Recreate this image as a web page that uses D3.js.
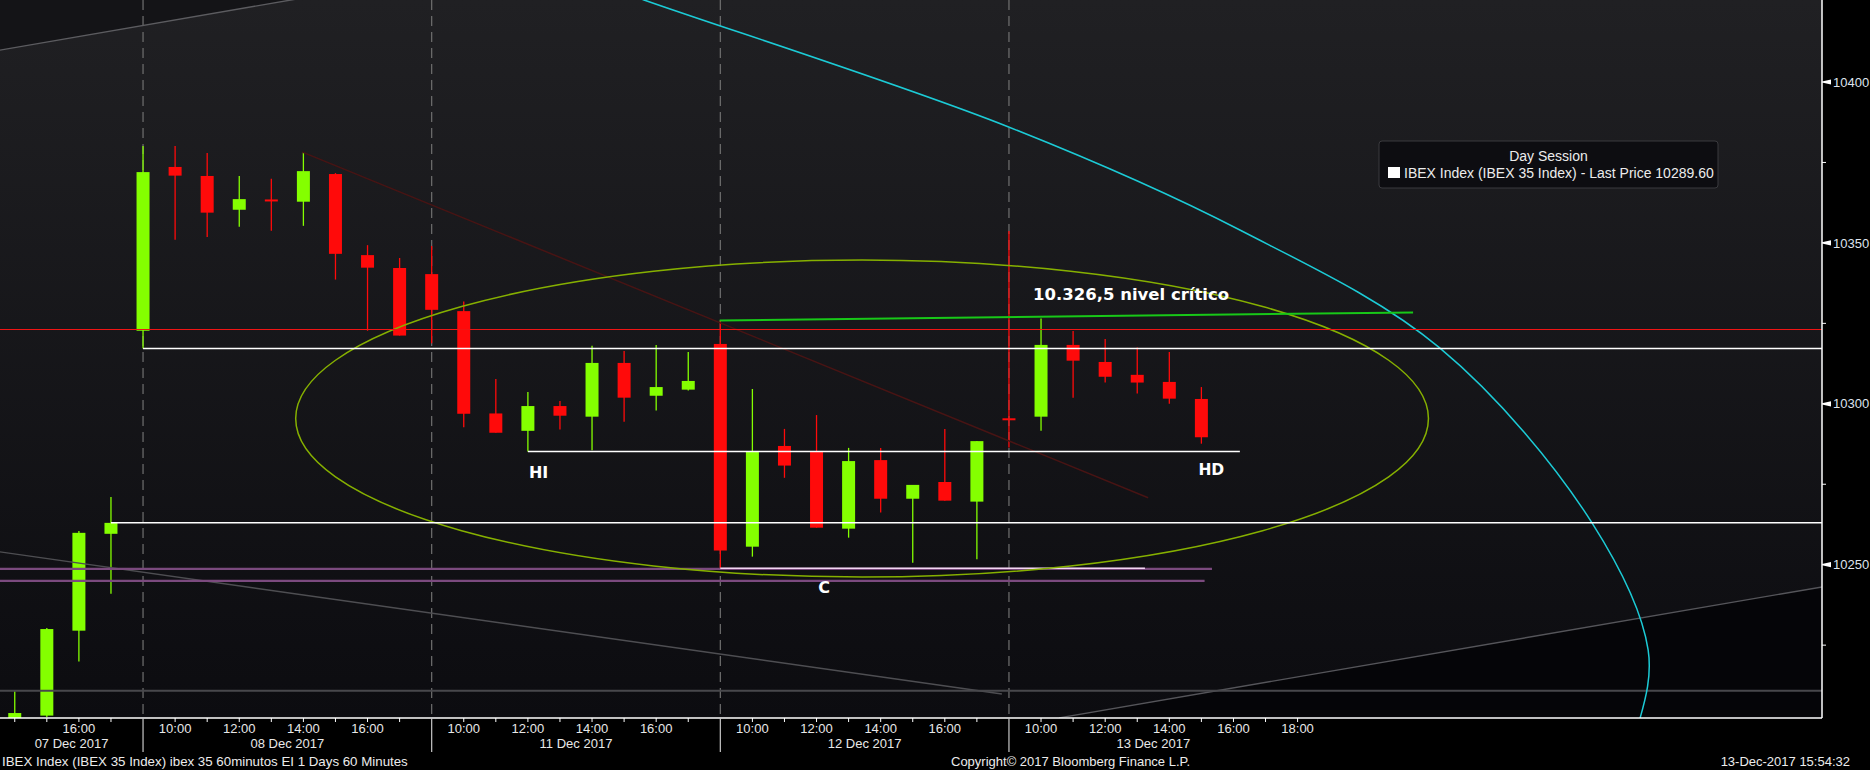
<!DOCTYPE html>
<html>
<head>
<meta charset="utf-8">
<script src="https://cdn.jsdelivr.net/npm/d3@7/dist/d3.min.js"></script>
<style>
  html, body { margin: 0; padding: 0; background: #000; }
  svg { display: block; }
  text { font-family: "Liberation Sans", Arial, sans-serif; }
  text.note { font-family: "DejaVu Sans", sans-serif; font-weight: bold; }
</style>
</head>
<body>
<svg id="chart" width="1870" height="770"></svg>
<script>
// bar index: 0 = 07 Dec 09:00, one slot per hour, 9 slots per session
const barIdx = [5, 6, 7, 8,
  9, 10, 11, 12, 13, 14, 15, 16, 17,
  18, 19, 20, 21, 22, 23, 24, 25, 26,
  27, 28, 29, 30, 31, 32, 33, 34, 35,
  36, 37, 38, 39, 40, 41, 42];
const opens = [10202.0, 10203.1, 10229.5, 10259.6,
  10322.7, 10373.6, 10370.8, 10360.3, 10363.5, 10362.8, 10371.4, 10346.2, 10342.2,
  10340.3, 10328.8, 10297.0, 10291.6, 10299.3, 10296.0, 10312.7, 10302.5, 10304.4,
  10318.6, 10255.6, 10286.9, 10285.1, 10261.2, 10282.5, 10270.5, 10275.7, 10269.6,
  10295.5, 10296.0, 10318.3, 10313.0, 10309.0, 10306.8, 10301.5];
const highs = [10210.7, 10230.3, 10260.5, 10271.0,
  10380.1, 10380.1, 10377.9, 10370.8, 10369.9, 10378.2, 10371.7, 10349.3, 10345.3,
  10349.0, 10331.8, 10307.7, 10303.7, 10300.9, 10318.0, 10316.4, 10318.3, 10316.1,
  10325.7, 10304.6, 10292.2, 10296.5, 10286.3, 10286.3, 10274.8, 10292.2, 10288.4,
  10353.7, 10326.5, 10322.6, 10320.1, 10317.5, 10316.1, 10305.2];
const lows = [10200.0, 10202.6, 10219.9, 10241.0,
  10317.2, 10351.0, 10351.8, 10355.0, 10353.8, 10355.3, 10338.6, 10322.7, 10321.2,
  10318.8, 10292.7, 10291.0, 10285.2, 10292.0, 10285.6, 10294.4, 10297.9, 10304.1,
  10248.9, 10252.5, 10277.0, 10261.5, 10258.4, 10266.2, 10250.6, 10269.9, 10251.7,
  10286.4, 10291.6, 10301.9, 10306.6, 10303.2, 10300.0, 10287.6];
const closes = [10203.9, 10230.0, 10259.9, 10263.0,
  10372.0, 10370.9, 10359.4, 10363.6, 10363.0, 10372.3, 10346.6, 10342.3, 10321.2,
  10329.2, 10296.9, 10291.0, 10299.3, 10296.3, 10312.7, 10301.9, 10305.2, 10307.1,
  10254.4, 10285.1, 10280.8, 10261.5, 10282.2, 10270.5, 10274.8, 10269.9, 10288.4,
  10295.4, 10318.3, 10313.4, 10308.4, 10306.6, 10301.6, 10289.6];

const dayLabels = ['07 Dec 2017', '08 Dec 2017', '11 Dec 2017', '12 Dec 2017', '13 Dec 2017'];
const dayStarts = [0, 9, 18, 27, 36];
const hourLabelIdx = [7, 10, 12, 14, 16, 19, 21, 23, 25, 28, 30, 32, 34, 37, 39, 41, 43, 45];
const hourLabels = ['16:00', '10:00', '12:00', '14:00', '16:00', '10:00', '12:00', '14:00', '16:00',
  '10:00', '12:00', '14:00', '16:00', '10:00', '12:00', '14:00', '16:00', '18:00'];
const priceMajor = [10250, 10300, 10350, 10400];
const priceMinor = [10225, 10275, 10325, 10375];

// drawn studies, in [bar index, price]
const redLevel = 10323.2;
const greyLevel = 10210.8;
const whiteLevels = [[8, 10263.0], [9, 10317.2]];
const hiHdLine = [[21, 10285.2], [43.2, 10285.2]];
const cLine = [[27, 10248.9], [40.24, 10248.9]];
const purpleLines = [[[0, 10248.7], [42.33, 10248.7]], [[0, 10245.0], [42.1, 10245.0]]];
const greenTrend = [[26.98, 10325.9], [48.6, 10328.4]];
const redTrend = [[13.97, 10378.2], [40.34, 10270.8]];
const greyTopTrend = [[0, 10402.1], [14.5, 10427.0]];
const greyLowTrend = [[0, 10260.4], [35.78, 10209.8]];
const greyRiseTrend = [[37.56, 10202.4], [61.36, 10243.1]];
const ellipseCenter = [31.42, 10295.4];
const ellipseRadii = [17.66, 49.25];
const cyanArc = [[22.0, 10434.8], [24.62, 10425.5], [35.97, 10386.1], [43.2, 10354.0],
  [49.44, 10317.3], [54.18, 10263.0], [55.93, 10223.5], [55.68, 10202.4], [55.2, 10192.5]];

const W = 1870, H = 770;
const plotW = 1822, plotH = 718;

const svg = d3.select('#chart');
const x = d3.scaleLinear().domain([0, 45]).range([-145.6, 1297.6]);
const y = d3.scaleLinear().domain([10202.36, 10425.48]).range([plotH, 0]);
const pt = d => [x(d[0]), y(d[1])];

const defs = svg.append('defs');
const grad = defs.append('linearGradient').attr('id', 'bg')
  .attr('x1', 0).attr('y1', 0).attr('x2', 0).attr('y2', 1);
grad.append('stop').attr('offset', '0%').attr('stop-color', '#202023');
grad.append('stop').attr('offset', '100%').attr('stop-color', '#0c0c10');
defs.append('clipPath').attr('id', 'plotClip')
  .append('rect').attr('width', plotW).attr('height', plotH);

svg.append('rect').attr('width', W).attr('height', H).attr('fill', '#000');
svg.append('rect').attr('width', plotW).attr('height', plotH).attr('fill', 'url(#bg)');

const plot = svg.append('g').attr('clip-path', 'url(#plotClip)');

// darker zones outside the grey channel lines
const t0 = pt(greyTopTrend[0]), t1 = pt(greyTopTrend[1]);
plot.append('path')
  .attr('d', d3.line()([t0, t1, [t0[0], t1[1]]]))
  .attr('fill', '#141417');
const r0 = pt(greyRiseTrend[0]), r1 = pt(greyRiseTrend[1]);
plot.append('path')
  .attr('d', d3.line()([r0, r1, [r1[0], r0[1]]]))
  .attr('fill', '#050508');

// session separators
plot.selectAll('.sep').data(dayStarts.slice(1)).enter().append('line')
  .attr('x1', d => x(d)).attr('x2', d => x(d))
  .attr('y1', 0).attr('y2', plotH)
  .attr('stroke', '#707070').attr('stroke-width', 1.2)
  .attr('stroke-dasharray', '10,6');

// candles
const bars = barIdx.map((d, i) => ({ i: d, o: opens[i], h: highs[i], l: lows[i], c: closes[i] }));
const candleW = 13;
const g = plot.selectAll('.bar').data(bars).enter().append('g');
const col = d => d.c > d.o ? '#84ff00' : '#ff0a0a';
g.append('line')
  .attr('x1', d => x(d.i)).attr('x2', d => x(d.i))
  .attr('y1', d => y(d.h)).attr('y2', d => y(d.l))
  .attr('stroke', col).attr('stroke-width', 1.3);
g.append('rect')
  .attr('x', d => x(d.i) - candleW / 2)
  .attr('width', candleW)
  .attr('y', d => y(Math.max(d.o, d.c)))
  .attr('height', d => Math.max(2, Math.abs(y(d.o) - y(d.c))))
  .attr('fill', col);

// studies
const line = d3.line().x(d => x(d[0])).y(d => y(d[1]));
const drawLine = (pts, color, w) => plot.append('path')
  .attr('d', line(pts)).attr('fill', 'none')
  .attr('stroke', color).attr('stroke-width', w);

drawLine(greyTopTrend, '#5c5c60', 1.4);
drawLine(greyLowTrend, '#4e4e52', 1.4);
drawLine(greyRiseTrend, '#55555a', 1.4);
drawLine([[0, greyLevel], [61.5, greyLevel]], '#48484c', 2);
drawLine(redTrend, '#481414', 1.5);

purpleLines.forEach(p => drawLine(p, '#7b4a7e', 2.2));
drawLine(cLine, '#f2d6f2', 1.5);

plot.append('ellipse')
  .attr('cx', x(ellipseCenter[0])).attr('cy', y(ellipseCenter[1]))
  .attr('rx', x(ellipseCenter[0] + ellipseRadii[0]) - x(ellipseCenter[0]))
  .attr('ry', y(ellipseCenter[1] - ellipseRadii[1]) - y(ellipseCenter[1]))
  .attr('fill', 'none').attr('stroke', '#86b000').attr('stroke-width', 1.5);

plot.append('path')
  .attr('d', line.curve(d3.curveCatmullRom)(cyanArc))
  .attr('fill', 'none').attr('stroke', '#1ccbd6').attr('stroke-width', 1.5);
line.curve(d3.curveLinear);

// red level snapped to the pixel grid so it stays bright
const redY = Math.round(y(redLevel)) + 0.5;
plot.append('line')
  .attr('x1', 0).attr('x2', plotW).attr('y1', redY).attr('y2', redY)
  .attr('stroke', '#f01414').attr('stroke-width', 1);
whiteLevels.forEach(d => drawLine([d, [61.5, d[1]]], '#ffffff', 1.5));
drawLine(hiHdLine, '#ffffff', 1.5);
drawLine(greenTrend, '#18c818', 2);

// labels on the chart
const ann = svg.append('g').attr('fill', '#ffffff');
ann.append('text').attr('class', 'note')
  .attr('x', x(21) + 1).attr('y', y(hiHdLine[0][1]) + 27)
  .style('font-size', '16px').text('HI');
ann.append('text').attr('class', 'note')
  .attr('x', x(42) - 3).attr('y', y(hiHdLine[1][1]) + 24)
  .style('font-size', '15.5px').text('HD');
ann.append('text').attr('class', 'note')
  .attr('x', x(30.05)).attr('y', y(cLine[0][1]) + 25)
  .style('font-size', '16px').text('C');
ann.append('text').attr('class', 'note')
  .attr('x', x(36.75)).attr('y', y(highs[32]) - 19)
  .style('font-size', '16.5px').text('10.326,5 nivel crítico');

// axes frame
svg.append('line').attr('x1', 0).attr('x2', plotW).attr('y1', plotH).attr('y2', plotH)
  .attr('stroke', '#fff').attr('stroke-width', 1.5);
svg.append('line').attr('x1', plotW).attr('x2', plotW).attr('y1', 0).attr('y2', plotH)
  .attr('stroke', '#fff').attr('stroke-width', 1.5);

// price axis
const yAx = svg.append('g').attr('transform', `translate(${plotW},0)`);
yAx.selectAll('.minor').data(priceMinor).enter().append('line')
  .attr('x1', 0).attr('x2', 4).attr('y1', d => y(d)).attr('y2', d => y(d))
  .attr('stroke', '#fff').attr('stroke-width', 1);
yAx.selectAll('.flag').data(priceMajor).enter().append('path')
  .attr('d', d => `M0,${y(d) - 0.6}L9,${y(d) - 2.6}L9,${y(d) + 2.6}L0,${y(d) + 0.6}Z`)
  .attr('fill', '#fff');
yAx.selectAll('.lbl').data(priceMajor).enter().append('text')
  .attr('x', 11).attr('y', d => y(d)).attr('dy', '0.36em')
  .attr('fill', '#dfe4ee').style('font-size', '13px')
  .text(d => d);

// time axis
const xAx = svg.append('g').attr('transform', `translate(0,${plotH})`);
xAx.selectAll('.tick').data(d3.range(0, 46).filter(d => dayStarts.indexOf(d) < 0)).enter().append('line')
  .attr('x1', d => x(d)).attr('x2', d => x(d)).attr('y1', 0).attr('y2', 4)
  .attr('stroke', '#fff').attr('stroke-width', 1);
xAx.selectAll('.dsep').data(dayStarts.slice(1)).enter().append('line')
  .attr('x1', d => x(d)).attr('x2', d => x(d)).attr('y1', 0).attr('y2', 34)
  .attr('stroke', '#c8c8c8').attr('stroke-width', 1.2);
xAx.selectAll('.hl').data(hourLabelIdx).enter().append('text')
  .attr('x', d => x(d)).attr('y', 14.5).attr('text-anchor', 'middle')
  .attr('fill', '#e8e8e8').style('font-size', '13px')
  .text((d, i) => hourLabels[i]);
xAx.selectAll('.dl').data(dayLabels).enter().append('text')
  .attr('x', (d, i) => (Math.max(0, x(dayStarts[i])) + x(dayStarts[i] + 9)) / 2)
  .attr('y', 30).attr('text-anchor', 'middle')
  .attr('fill', '#e8e8e8').style('font-size', '13px')
  .text(d => d);

// footer
const foot = svg.append('g').attr('fill', '#ececec');
foot.append('text').attr('x', 2).attr('y', 766).style('font-size', '13.3px')
  .text('IBEX Index (IBEX 35 Index) ibex 35 60minutos EI 1 Days 60 Minutes');
foot.append('text').attr('x', 951).attr('y', 766).style('font-size', '13px')
  .text('Copyright\u00a9 2017 Bloomberg Finance L.P.');
foot.append('text').attr('x', 1850).attr('y', 766).attr('text-anchor', 'end').style('font-size', '13px')
  .text('13-Dec-2017 15:54:32');

// legend
const leg = svg.append('g').attr('transform', 'translate(1379,141)');
leg.append('rect').attr('width', 339).attr('height', 47).attr('rx', 3)
  .attr('fill', '#0d0d11').attr('stroke', '#3a3a3e');
leg.append('text').attr('x', 169.5).attr('y', 20).attr('text-anchor', 'middle')
  .attr('fill', '#ececec').style('font-size', '14px').text('Day Session');
leg.append('rect').attr('x', 9).attr('y', 26).attr('width', 12).attr('height', 11).attr('fill', '#fff');
leg.append('text').attr('x', 25).attr('y', 37)
  .attr('fill', '#ececec').style('font-size', '14px')
  .text('IBEX Index (IBEX 35 Index) - Last Price 10289.60');
</script>
</body>
</html>
